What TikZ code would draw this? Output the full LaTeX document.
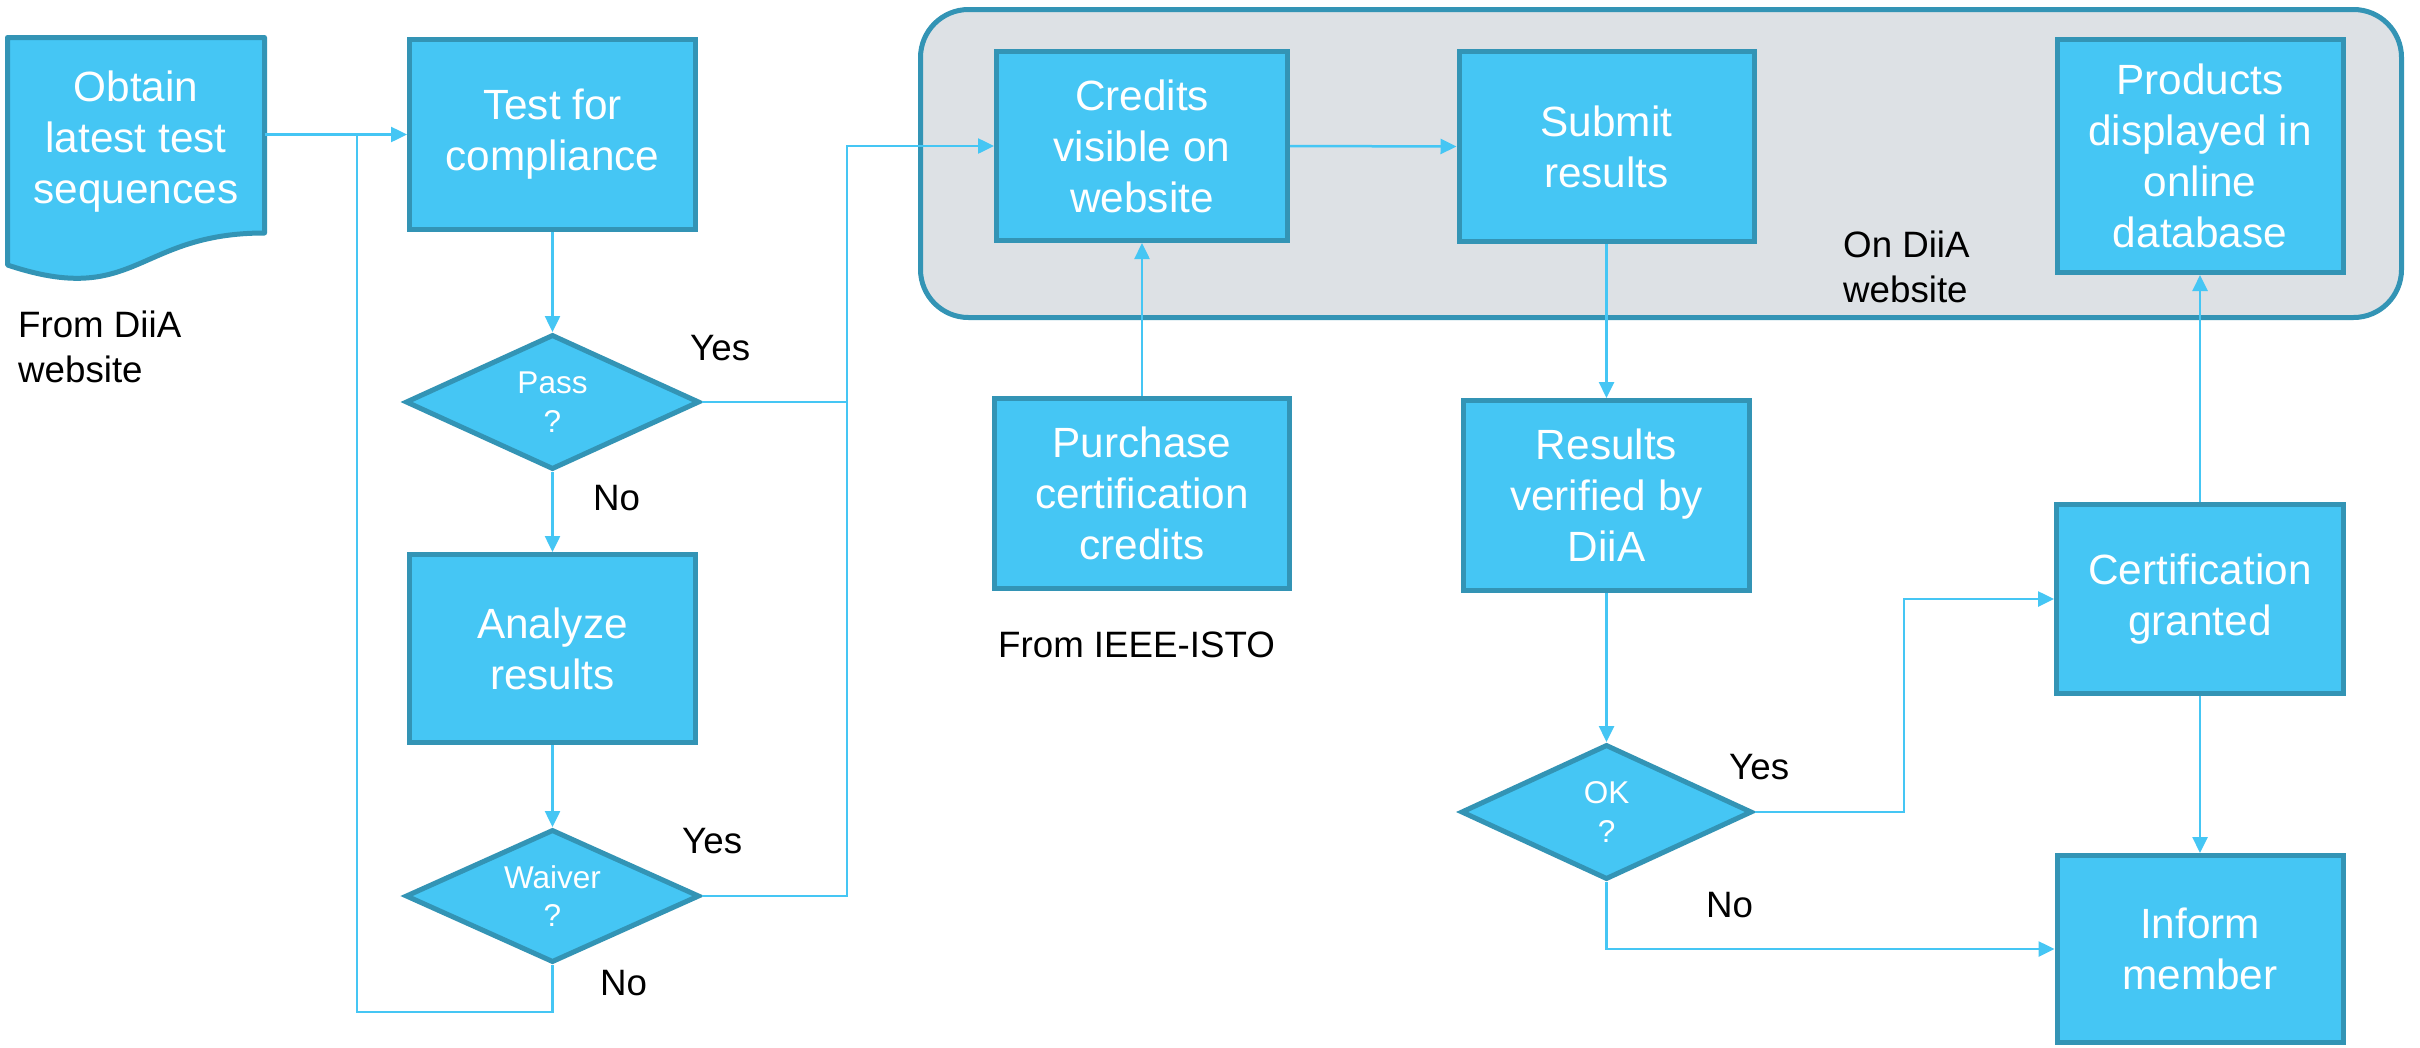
\documentclass[tikz,border=0pt]{standalone}
\usepackage{fontspec}
\setmainfont{Liberation Sans}
\usetikzlibrary{shapes.geometric,arrows.meta}
\definecolor{boxfill}{HTML}{45C6F4}
\definecolor{boxline}{HTML}{3394B5}
\definecolor{linecol}{HTML}{45C6F4}
\definecolor{webfill}{HTML}{DDE1E5}
\newcommand\bxfont{\fontsize{42.3}{51}\selectfont}
\newcommand\dmfont{\fontsize{31.5}{38.5}\selectfont}
\newcommand\lbfont{\fontsize{36.7}{45}\selectfont}
\begin{document}
\begin{tikzpicture}[x=1pt,y=-1pt,
  procbox/.style={draw=boxline, fill=boxfill, line width=5pt, text=white,
    font=\bxfont, align=center, inner sep=0pt},
  decision/.style={diamond, aspect=2.15, draw=boxline, fill=boxfill, line width=5pt,
    text=white, font=\dmfont, align=center, inner sep=0pt},
  lbl/.style={font=\lbfont, text=black, inner sep=0pt, align=left},
  plain/.style={draw=linecol, line width=2.5pt},
  flow/.style={plain, -{Triangle[length=16pt,width=15pt]}}
]
\useasboundingbox (0,0) rectangle (2420,1047);
\fill[white] (0,0) rectangle (2420,1047);

% website container
\node[draw=boxline, fill=webfill, line width=5pt, rounded corners=48pt,
  minimum width=1481pt, minimum height=308pt, inner sep=0pt] (web) at (1661,163.5) {};

% document shape
\draw[draw=boxline, fill=boxfill, line width=5pt, line join=round]
  (7.5,37.5) -- (264.5,37.5) -- (264.5,233) .. controls (136,233) and (136,308) .. (7.5,265) -- cycle;
\node[text=white, font=\bxfont, align=center, inner sep=0pt, outer sep=0pt,
  minimum width=257pt, minimum height=208pt] (obtain) at (136,142)
  {Obtain\\latest test\\sequences};

% left column
\node[procbox, minimum width=286pt, minimum height=190pt] (test) at (552.5,134.5)
  {\raisebox{-5pt}{\begin{tabular}{@{}c@{}}Test for\\compliance\end{tabular}}};
\node[decision, minimum width=294pt, minimum height=135pt] (pass) at (552.5,402) {Pass\\?};
\node[procbox, minimum width=286pt, minimum height=188pt] (analyze) at (552.5,648.5) {Analyze\\results};
\node[decision, minimum width=294pt, minimum height=133pt] (waiver) at (552.5,896) {Waiver\\?};

% credits column
\node[procbox, minimum width=291pt, minimum height=189pt] (credits) at (1142,146) {Credits\\visible on\\website};
\node[procbox, minimum width=295pt, minimum height=190pt] (purchase) at (1142,493.5) {Purchase\\certification\\credits};

% submit column
\node[procbox, minimum width=295pt, minimum height=190pt] (submit) at (1606.5,146.5) {Submit\\results};
\node[procbox, minimum width=286pt, minimum height=190pt] (results) at (1606.5,495.5) {Results\\verified by\\DiiA};
\node[decision, aspect=2.1, minimum width=291pt, minimum height=135pt] (ok) at (1606.5,812) {OK\\?};

% right column
\node[procbox, minimum width=286pt, minimum height=233pt] (products) at (2200,156) {Products\\displayed in\\online\\database};
\node[procbox, minimum width=287pt, minimum height=189pt] (cert) at (2200,599) {Certification\\granted};
\node[procbox, minimum width=286pt, minimum height=187pt] (inform) at (2200,949) {Inform\\member};

% helper coordinates
\coordinate (loopx) at (357,0);
\coordinate (busx) at (847,0);
\coordinate (okx) at (1904,0);

% connectors
\draw[flow] (obtain.east |- test.west) -- (test.west);
\draw[flow] (test.south) -- (pass.north);
\draw[flow] (pass.south) -- (analyze.north);
\draw[flow] (analyze.south) -- (waiver.north);
\draw[plain] (waiver.south) -- ++(0,47) -| (loopx |- test.west);
\draw[plain] (pass.east) -- (pass.east -| busx);
\draw[flow] (waiver.east) -- (waiver.east -| busx) |- (credits.west);
\draw[flow] (credits.east) -- (submit.west);
\draw[flow] (purchase.north) -- (credits.south);
\draw[flow] (submit.south) -- (results.north);
\draw[flow] (results.south) -- (ok.north);
\draw[flow] (ok.east) -- (ok.east -| okx) |- (cert.west);
\draw[flow] (ok.south) |- (inform.west);
\draw[flow] (cert.north) -- (products.south);
\draw[flow] (cert.south) -- (inform.north);

% labels
\node[lbl, anchor=base west] (yes1) at (690,360) {Yes};
\node[lbl, anchor=base west] (no1) at (593,510) {No};
\node[lbl, anchor=base west] (yes2) at (682,853) {Yes};
\node[lbl, anchor=base west] (no2) at (600,995) {No};
\node[lbl, anchor=base west] (yes3) at (1729,779) {Yes};
\node[lbl, anchor=base west] (no3) at (1706,917) {No};
\node[lbl, anchor=west] (fromdiia) at (18,346.5) {From DiiA\\website};
\node[lbl, anchor=base west] (fromieee) at (998,657) {From IEEE-ISTO};
\node[lbl, anchor=west] (ondiia) at (1843,267) {On DiiA\\website};
\end{tikzpicture}
\end{document}
